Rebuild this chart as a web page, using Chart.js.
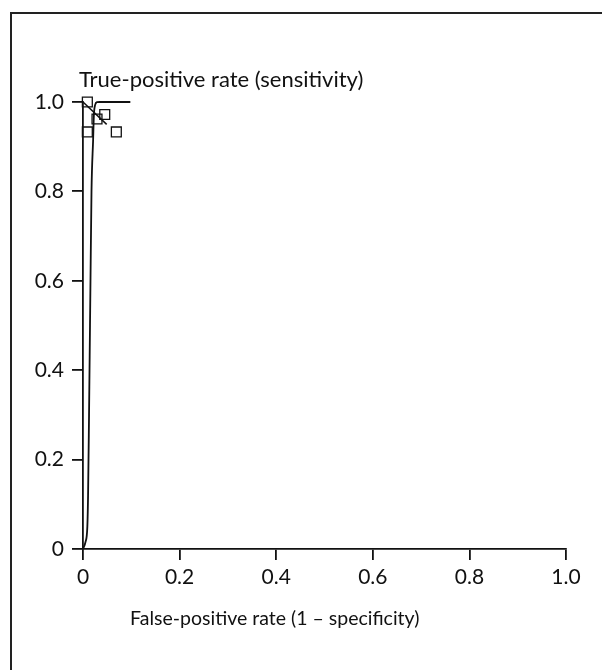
<!DOCTYPE html>
<html>
<head>
<meta charset="utf-8">
<script src="https://cdn.jsdelivr.net/npm/chart.js@4/dist/chart.umd.min.js"></script>
<style>
  html, body { margin: 0; padding: 0; background: #fff; }
  #wrap { position: relative; width: 602px; height: 670px; overflow: hidden; }
  #frame { position: absolute; left: 10px; top: 12px; width: 620px; height: 700px; border: 2px solid #222; box-sizing: border-box; }
  canvas { position: absolute; left: 0; top: 0; }
</style>
</head>
<body>
<div id="wrap">
  <div id="frame"></div>
  <canvas id="c" width="602" height="670"></canvas>
</div>
<script>
// ---- data ----
const xTickLabels = ['0', '0.2', '0.4', '0.6', '0.8', '1.0'];
const yTickLabels = ['0', '0.2', '0.4', '0.6', '0.8', '1.0'];
const curveFpr = [0, 0.005, 0.009, 0.0105, 0.0125, 0.0145, 0.0155, 0.0176, 0.021, 0.0225, 0.025, 0.029, 0.035, 0.098];
const curveTpr = [0, 0.015, 0.05, 0.12, 0.3, 0.5, 0.6, 0.8, 0.917, 0.97, 0.993, 0.9995, 1.0, 1.0];
const studyFpr = [0.009, 0.045, 0.029, 0.009, 0.069];
const studyTpr = [1.0, 0.972, 0.962, 0.933, 0.933];
const segFpr = [0, 0.049];
const segTpr = [1.0, 0.95];
const xTitle = 'False-positive rate (1 \u2013 specificity)';
const yTitle = 'True-positive rate (sensitivity)';

const FONT = 'Lato, "Open Sans", sans-serif';
const zip = (xs, ys) => xs.map((x, i) => ({ x: x, y: ys[i] }));

const titles = {
  id: 'titles',
  afterDraw(chart) {
    const ctx = chart.ctx;
    const xs = chart.scales.x, ys = chart.scales.y;
    ctx.save();
    ctx.fillStyle = '#111';
    ctx.textBaseline = 'alphabetic';
    ctx.font = '22px ' + FONT;
    ctx.textAlign = 'left';
    ctx.fillText(yTitle, xs.left - 4, ys.top - 15);
    ctx.font = '19.5px ' + FONT;
    ctx.textAlign = 'center';
    ctx.fillText(xTitle, xs.left + (xs.right - xs.left) * 0.397, ys.bottom + 76);
    ctx.restore();
  }
};

new Chart(document.getElementById('c'), {
  type: 'scatter',
  data: {
    datasets: [
      {
        label: 'SROC',
        type: 'line',
        data: zip(curveFpr, curveTpr),
        borderColor: '#111',
        borderWidth: 1.8,
        pointRadius: 0,
        fill: false,
        cubicInterpolationMode: 'monotone',
        clip: false
      },
      {
        label: 'Summary',
        type: 'line',
        data: zip(segFpr, segTpr),
        borderColor: '#111',
        borderWidth: 1.5,
        pointRadius: 0,
        fill: false,
        clip: false
      },
      {
        label: 'Studies',
        data: zip(studyFpr, studyTpr),
        pointStyle: 'rect',
        pointRadius: 7,
        pointBorderWidth: 1.3,
        borderColor: '#111',
        backgroundColor: 'rgba(0,0,0,0)',
        clip: false
      }
    ]
  },
  options: {
    responsive: false,
    animation: false,
    devicePixelRatio: 1,
    layout: { padding: { left: 0, top: 102, right: 36, bottom: 0 } },
    plugins: { legend: { display: false }, tooltip: { enabled: false } },
    scales: {
      x: {
        type: 'linear', min: 0, max: 1,
        afterFit(s) { s.height = 121; },
        border: { display: true, color: '#111', width: 1.8 },
        grid: { drawOnChartArea: false, drawTicks: true, tickLength: 11, color: '#111', lineWidth: 1.8 },
        ticks: {
          stepSize: 0.2, padding: 5, color: '#111', font: { family: FONT, size: 21 },
          callback: (v) => xTickLabels[Math.round(v * 5)]
        }
      },
      y: {
        type: 'linear', min: 0, max: 1,
        afterFit(s) { s.width = 83; },
        border: { display: true, color: '#111', width: 1.8 },
        grid: { drawOnChartArea: false, drawTicks: true, tickLength: 11, color: '#111', lineWidth: 1.8 },
        ticks: {
          stepSize: 0.2, padding: 8, color: '#111', font: { family: FONT, size: 21 },
          callback: (v) => yTickLabels[Math.round(v * 5)]
        }
      }
    }
  },
  plugins: [titles]
});
</script>
</body>
</html>
